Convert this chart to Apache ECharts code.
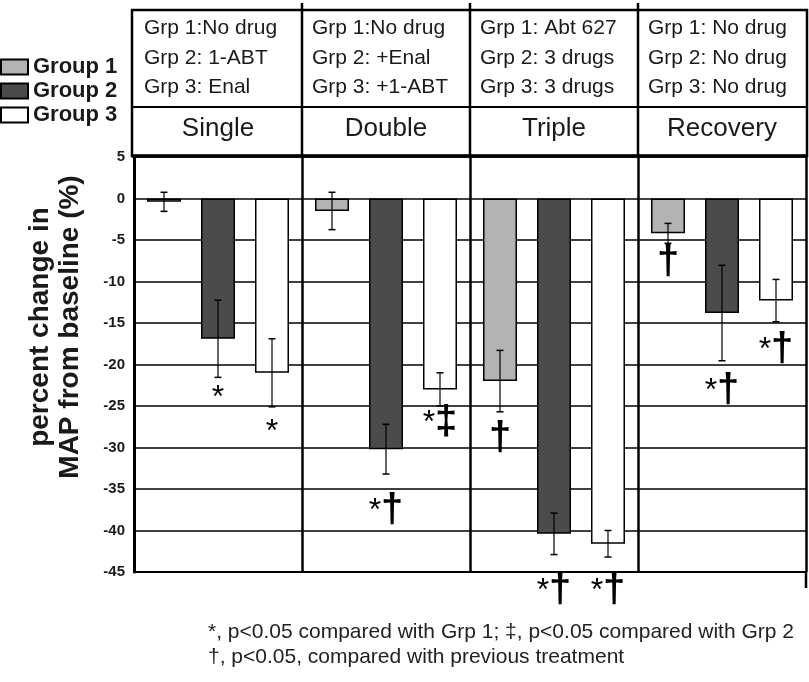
<!DOCTYPE html>
<html><head><meta charset="utf-8">
<script src="https://cdn.jsdelivr.net/npm/echarts@6/dist/echarts.min.js"></script>
<style>html,body{margin:0;padding:0;background:#fff}#c{width:809px;height:682px}</style>
</head><body><div id="c"></div>
<script>
// ---- data ----
const categories = ['Single', 'Double', 'Triple', 'Recovery'];
const groupNames = ['Group 1', 'Group 2', 'Group 3'];
const grp1 = [-0.4, -1.5, -22.0, -4.2];
const grp2 = [-16.9, -30.2, -40.4, -13.8];
const grp3 = [-21.0, -23.0, -41.6, -12.3];
const err1 = [1.15, 2.25, 3.7, 1.2];
const err2 = [4.65, 3.0, 2.5, 5.75];
const err3 = [4.1, 2.0, 1.6, 2.55];
const sig1 = ['', '', '†', '†'];
const sig2 = ['*', '*†', '*†', '*†'];
const sig3 = ['*', '*‡', '*†', '*†'];
const sigY1 = [null, null, -29.0, -7.8];
const sigY2 = [-22.95, -37.7, -47.3, -23.2];
const sigY3 = [-27.05, -27.1, -47.3, -18.25];
const hdr1 = ['Grp 1:No drug', 'Grp 1:No drug', 'Grp 1: Abt 627', 'Grp 1: No drug'];
const hdr2 = ['Grp 2: 1-ABT', 'Grp 2: +Enal', 'Grp 2: 3 drugs', 'Grp 2: No drug'];
const hdr3 = ['Grp 3: Enal', 'Grp 3: +1-ABT', 'Grp 3: 3 drugs', 'Grp 3: No drug'];
const yTitle = ['percent change in', 'MAP from baseline (%)'];
const footnotes = ['*, p<0.05 compared with Grp 1; \u2021, p<0.05 compared with Grp 2',
                   '\u2020, p<0.05, compared with previous treatment'];
const yMin = -45, yMax = 5, yStep = 5;

// ---- style / layout ----
const FONT = 'Arial, "Liberation Sans", sans-serif';
const TXT = '#1a1a1a';
const W = 809, H = 682;
const GRID = {left: 134, right: 3, top: 157, bottom: 110};
const BAR_W = 34, GAP = 20;
const offsets = [-(BAR_W + GAP), 0, BAR_W + GAP];
const colors = ['#b3b3b3', '#4b4b4b', '#ffffff'];
const STAR_SIZE = 32, DAG_SIZE = 40, LONE_STAR_SHIFT = 9;

const chart = echarts.init(document.getElementById('c'), null, {renderer: 'canvas'});

function barSeries(g, vals) {
  return {type: 'bar', name: groupNames[g], data: vals, barWidth: BAR_W, barGap: (GAP / BAR_W * 100).toFixed(1) + '%',
    xAxisIndex: 0, z: 2, silent: true,
    itemStyle: {color: colors[g], borderColor: '#000', borderWidth: 1.5}};
}
function errSeries(g, vals, errs) {
  return {type: 'custom', name: groupNames[g] + ' err', xAxisIndex: 0, z: 5, silent: true,
    data: vals.map((v, i) => [i, v, errs[i]]),
    renderItem(params, api) {
      const c = api.value(0), v = api.value(1), e = api.value(2);
      const t = api.coord([c, v + e]), b = api.coord([c, v - e]);
      const x = t[0] + offsets[g], hw = 3.5;
      return {type: 'group', children: [
        {type: 'line', shape: {x1: x, y1: t[1], x2: x, y2: b[1]}, style: {stroke: '#000', lineWidth: 1.2}},
        {type: 'line', shape: {x1: x - hw, y1: t[1], x2: x + hw, y2: t[1]}, style: {stroke: '#000', lineWidth: 1.5}},
        {type: 'line', shape: {x1: x - hw, y1: b[1], x2: x + hw, y2: b[1]}, style: {stroke: '#000', lineWidth: 1.5}}
      ]};
    }};
}
function sigSeries(g, marks, ys) {
  return {type: 'custom', name: groupNames[g] + ' sig', xAxisIndex: 0, z: 6, silent: true, clip: false,
    data: ys.map((y, i) => [i, y === null ? NaN : y]),
    renderItem(params, api) {
      const c = api.value(0), y = api.value(1);
      const m = marks[c];
      if (!m || isNaN(y)) return null;
      const p = api.coord([c, y]);
      const dy = (m === '*') ? LONE_STAR_SHIFT : 0;
      const txt = m.split('').map(ch => ch === '*' ? '{s|*}' : '{d|' + ch + '}').join('');
      return {type: 'text', x: p[0] + offsets[g], y: p[1] + dy,
        style: {text: txt, align: 'center', verticalAlign: 'middle', textAlign: 'center', textVerticalAlign: 'middle',
          fill: '#000',
          rich: {
            s: {fontSize: STAR_SIZE, fontFamily: FONT, fill: '#000', color: '#000'},
            d: {fontSize: DAG_SIZE, fontWeight: 'bold', fontFamily: FONT, fill: '#000', color: '#000'}
          }}};
    }};
}

// header / decoration graphics
const plotW = W - GRID.left - GRID.right;
const band = plotW / categories.length;
const bx = [];
for (let i = 0; i <= categories.length; i++) bx.push(GRID.left + i * band);
const boxL = GRID.left - 2, boxR = W - 2, boxT = 10, boxB = 156, rowY = 107;
const gfx = [];
gfx.push({type: 'rect', shape: {x: boxL, y: boxT, width: boxR - boxL, height: boxB - boxT}, style: {fill: 'none', stroke: '#000', lineWidth: 2.5}, z: 10});
gfx.push({type: 'line', shape: {x1: boxL, y1: rowY, x2: boxR, y2: rowY}, style: {stroke: '#000', lineWidth: 2}, z: 10});
gfx.push({type: 'line', shape: {x1: boxL, y1: boxB, x2: boxR, y2: boxB}, style: {stroke: '#000', lineWidth: 3.5}, z: 10});
for (let i = 1; i < categories.length; i++) {
  gfx.push({type: 'line', shape: {x1: bx[i], y1: 3, x2: bx[i], y2: boxB}, style: {stroke: '#000', lineWidth: 2.5}, z: 10});
}
gfx.push({type: 'line', shape: {x1: bx[categories.length], y1: H - GRID.bottom, x2: bx[categories.length], y2: H - GRID.bottom + 16}, style: {stroke: '#000', lineWidth: 2.5}, z: 10});
const hdrRows = [hdr1, hdr2, hdr3], hdrY = [28, 58, 87];
for (let r = 0; r < 3; r++) {
  for (let i = 0; i < categories.length; i++) {
    gfx.push({type: 'text', x: bx[i] + 10, y: hdrY[r], z: 11,
      style: {text: hdrRows[r][i], font: '21px ' + FONT, fill: TXT, align: 'left', verticalAlign: 'middle', textAlign: 'left', textVerticalAlign: 'middle'}});
  }
}
gfx.push({type: 'text', x: 55, y: 327, rotation: Math.PI / 2, z: 11,
  style: {text: yTitle.join('\n'), font: 'bold 28px ' + FONT, lineHeight: 30, fill: TXT,
    align: 'center', verticalAlign: 'middle', textAlign: 'center', textVerticalAlign: 'middle'}});
footnotes.forEach((t, k) => {
  gfx.push({type: 'text', x: 208, y: 632 + k * 25, z: 11,
    style: {text: t, font: '21px ' + FONT, fill: '#222', align: 'left', verticalAlign: 'middle', textAlign: 'left', textVerticalAlign: 'middle'}});
});

chart.setOption({
  animation: false,
  backgroundColor: '#fff',
  textStyle: {fontFamily: FONT},
  grid: {left: GRID.left, right: GRID.right, top: GRID.top, bottom: GRID.bottom, containLabel: false},
  legend: {data: groupNames, orient: 'vertical', left: 0, top: 56, padding: 0,
    itemWidth: 27, itemHeight: 15, itemGap: 2, icon: 'rect', selectedMode: false,
    textStyle: {fontSize: 22, fontWeight: 'bold', fontFamily: FONT, color: TXT, lineHeight: 21}},
  xAxis: [
    {type: 'category', data: categories, position: 'bottom',
      axisLine: {show: true, onZero: false, lineStyle: {color: '#000', width: 2}},
      axisTick: {show: false}, axisLabel: {show: false},
      splitLine: {show: true, interval: 0, lineStyle: {color: '#000', width: 2.5}}},
    {type: 'category', data: categories, position: 'top',
      axisLine: {show: false}, axisTick: {show: false},
      axisLabel: {show: true, interval: 0, margin: 15, fontSize: 26, fontFamily: FONT, color: TXT},
      splitLine: {show: false}}
  ],
  yAxis: {type: 'value', min: yMin, max: yMax, interval: yStep,
    axisLine: {show: true, lineStyle: {color: '#000', width: 3}},
    axisTick: {show: false},
    axisLabel: {fontSize: 15, fontWeight: 'bold', fontFamily: FONT, color: TXT, margin: 9},
    splitLine: {show: true, lineStyle: {color: '#000', width: 1.5}}},
  series: [
    barSeries(0, grp1), barSeries(1, grp2), barSeries(2, grp3),
    errSeries(0, grp1, err1), errSeries(1, grp2, err2), errSeries(2, grp3, err3),
    sigSeries(0, sig1, sigY1), sigSeries(1, sig2, sigY2), sigSeries(2, sig3, sigY3)
  ],
  graphic: {elements: gfx}
});
</script></body></html>
